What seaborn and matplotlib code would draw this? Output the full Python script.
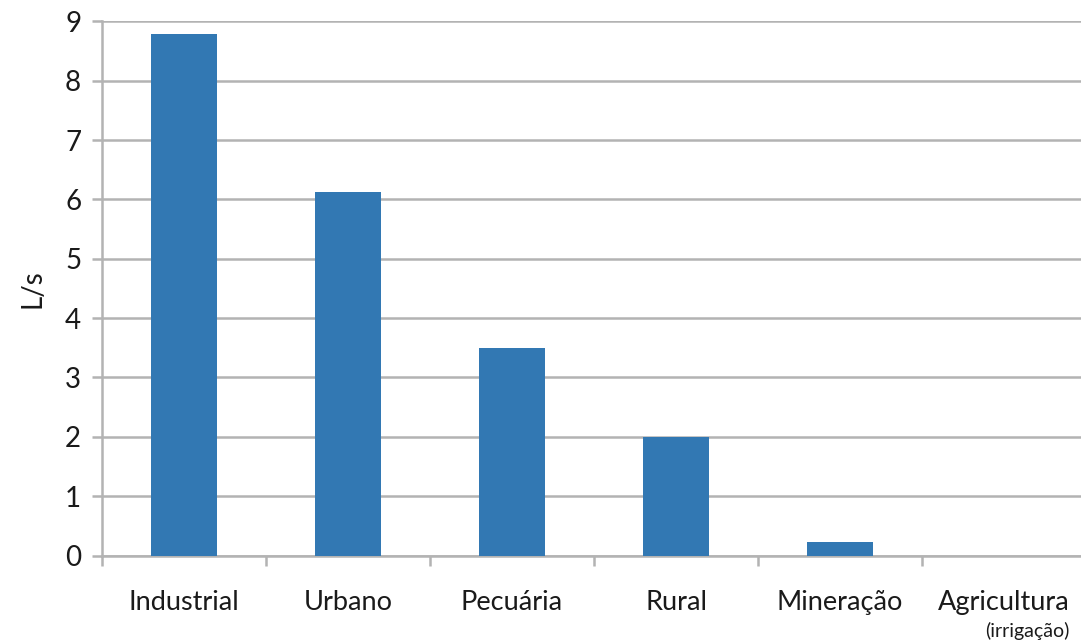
import matplotlib
matplotlib.use("Agg")
import matplotlib.pyplot as plt
import matplotlib.transforms as mtransforms
import seaborn as sns
import pandas as pd

# Vazão por setor
setores = ['Industrial', 'Urbano', 'Pecuária', 'Rural', 'Mineração', 'Agricultura']
vazao = [8.78, 6.12, 3.5, 2.0, 0.23, 0.0]
yticks = list(range(0, 10))

df = pd.DataFrame({'setor': setores, 'vazao': vazao})

sns.set_style('white')
plt.rcParams['font.family'] = ['Lato', 'DejaVu Sans']

fig = plt.figure(figsize=(10.81, 6.44), dpi=100)
ax = fig.add_axes([0.0944, 0.1374, 0.9102, 0.8295])

sns.barplot(data=df, x='setor', y='vazao', color='#3278b3', width=0.4,
            saturation=1, linewidth=0, ax=ax, zorder=3)

ax.set_xlim(-0.5, len(setores) - 0.5)
ax.set_ylim(0, 9)
ax.set_yticks(yticks)
ax.yaxis.grid(True, color='#b3b3b3', linewidth=1.8, zorder=0)
ax.set_axisbelow(True)

for s in ['top', 'right']:
    ax.spines[s].set_visible(False)
for s in ['left', 'bottom']:
    ax.spines[s].set_color('#b3b3b3')
    ax.spines[s].set_linewidth(1.8)

ax.tick_params(axis='y', length=7, width=1.8, color='#b3b3b3', labelsize=20,
               labelcolor='#1a1a1a', pad=8, left=True)
# category separators as minor ticks, labels centred with no tick
ax.set_xticks([i - 0.5 for i in range(len(setores) + 1)], minor=True)
ax.tick_params(axis='x', which='minor', length=7, width=1.8, color='#b3b3b3', bottom=True)
ax.tick_params(axis='x', which='major', length=0, labelsize=19.5, labelcolor='#1a1a1a', pad=25)

ax.set_xlabel('')
ax.set_ylabel('L/s', fontsize=20, color='#1a1a1a', labelpad=14)

trans = mtransforms.blended_transform_factory(ax.transData, ax.transAxes)
ax.text(len(setores) - 1 + 0.4, -0.142, '(irrigação)', transform=trans,
        ha='right', va='center', fontsize=14, color='#1a1a1a')

fig.savefig('out.png', dpi=100)
